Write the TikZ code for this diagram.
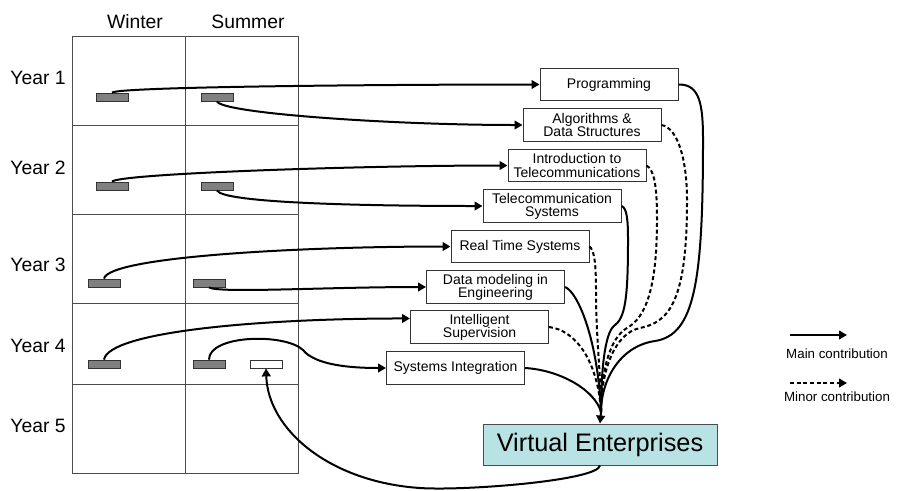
\documentclass[tikz,border=0pt]{standalone}
\usepackage{fontspec}
\setmainfont{Liberation Sans}
\usetikzlibrary{arrows.meta}
\definecolor{vefill}{RGB}{185,226,228}
\begin{document}
\begin{tikzpicture}[x=0.75pt,y=-0.75pt,
  gridline/.style={draw=black!70,line width=0.75pt},
  course/.style={draw=black!80,line width=0.75pt,fill=white,minimum width=103.5pt,minimum height=24.5pt,inner sep=0pt,align=center,font=\fontsize{10.5}{9.9}\selectfont},
  bar/.style={draw=black!80,line width=0.6pt,fill=black!50,minimum width=24pt,minimum height=6pt,inner sep=0pt},
  wbar/.style={bar,fill=white},
  lbl/.style={font=\fontsize{14.5}{16}\selectfont,inner sep=0pt},
  legendtext/.style={font=\fontsize{10}{12}\selectfont,inner sep=0pt},
  mainc/.style={line width=1.5pt},
  minorc/.style={line width=1.5pt,dash pattern=on 3pt off 2pt},
  arr/.style={-{Triangle[length=6pt,width=6.5pt]}},
]
\useasboundingbox (0,0) rectangle (898,490);

% table
\draw[gridline] (72,36) rectangle (298,473);
\draw[gridline] (185,36) -- (185,473);
\foreach \yy in {125,214,303,384} \draw[gridline] (72,\yy) -- (298,\yy);

\node[lbl] (winter) at (135,22) {Winter};
\node[lbl] (summer) at (248,22) {Summer};
\node[lbl] (y1) at (38,78) {Year 1};
\node[lbl] (y2) at (38,168) {Year 2};
\node[lbl] (y3) at (38,265) {Year 3};
\node[lbl] (y4) at (38,346) {Year 4};
\node[lbl] (y5) at (38,426) {Year 5};

% bars
\node[bar] (b1w) at (112,97) {};
\node[bar] (b1s) at (217,97) {};
\node[bar] (b2w) at (112,186) {};
\node[bar] (b2s) at (217,186) {};
\node[bar] (b3w) at (104,283) {};
\node[bar] (b3s) at (209,283) {};
\node[bar] (b4w) at (104,364) {};
\node[bar] (b4s) at (209,364) {};
\node[wbar] (wb) at (266,364) {};

% courses
\node[course] (prog) at (609,84.5) {Programming};
\node[course] (alg) at (592,125) {Algorithms \&\\Data Structures};
\node[course] (intro) at (577,165.5) {Introduction to\\Telecommunications};
\node[course] (tele) at (552,206) {Telecommunication\\Systems};
\node[course] (rts) at (520,246.5) {Real Time Systems};
\node[course] (dm) at (495.5,287) {Data modeling in\\Engineering};
\node[course] (is) at (479.5,327) {Intelligent\\Supervision};
\node[course] (si) at (455.5,368) {Systems Integration};

\node[draw=black!70,line width=0.75pt,fill=vefill,minimum width=175.5pt,minimum height=30.75pt,inner sep=0pt,font=\fontsize{19}{22}\selectfont] (ve) at (600,444.5) {Virtual Enterprises};

% bar -> course
\draw[mainc,arr] (b1w.north) .. controls +(8,-6) and +(-150,0) .. (prog.west);
\draw[mainc,arr] (b1s.south) .. controls +(5,12) and +(-130,0) .. (alg.west);
\draw[mainc,arr] (b2w.north) .. controls +(8,-8) and +(-150,0) .. (intro.west);
\draw[mainc,arr] (b2s.south) .. controls +(5,12) and +(-130,0) .. (tele.west);
\draw[mainc,arr] (b3w.north) .. controls +(5,-22) and +(-150,0) .. (rts.west);
\draw[mainc,arr] (b3s.south) .. controls +(10,6) and +(-100,0) .. (dm.west);
\draw[mainc,arr] (b4w.north) .. controls +(5,-28) and +(-150,0) .. (is.173);
\draw[mainc,arr] (b4s.north) .. controls +(0,-25) and (285,333) .. (303,350) .. controls (315,365) and (350,368) .. (si.west);

% VE -> white bar
\draw[mainc,arr] (ve.south) .. controls +(-2,15) and (465,491) .. (420,488) .. controls (330,482) and (268,430) .. (wb.south);

% course -> VE
\coordinate (hub) at (601,412);
\draw[mainc] (prog.east) .. controls (700,84) and (703,105) .. (703,140) .. controls (703,280) and (695,335) .. (655,341) .. controls (620,346) and (601,380) .. (hub);
\draw[minorc] (alg.east) .. controls (678,128) and (687,160) .. (687,200) .. controls (687,300) and (670,322) .. (640,328) .. controls (615,333) and (601,370) .. (hub);
\draw[minorc] (intro.east) .. controls (655,170) and (657,190) .. (657,220) .. controls (657,290) and (645,318) .. (627,328) .. controls (610,338) and (601,370) .. (hub);
\draw[mainc] (tele.east) .. controls (627,208) and (628,220) .. (628,240) .. controls (628,300) and (625,318) .. (614,326) .. controls (605,333) and (601,370) .. (hub);
\draw[minorc] (rts.east) .. controls (594,250) and (596,262) .. (596,290) .. controls (596,340) and (601,375) .. (hub);
\draw[mainc] (dm.east) .. controls (578,292) and (598,340) .. (hub);
\draw[minorc] (is.east) .. controls (575,330) and (598,360) .. (hub);
\draw[mainc] (si.east) .. controls (560,370) and (595,390) .. (hub);
\draw[mainc,arr] (hub) -- (ve.north);

% legend
\coordinate (m1) at (790,335);
\coordinate (m2) at (847,335);
\draw[mainc,arr] (m1) -- (m2);
\node[legendtext] (mtext) at (837,354) {Main contribution};
\coordinate (n1) at (790,383);
\coordinate (n2) at (847,383);
\draw[minorc,arr] (n1) -- (n2);
\node[legendtext] (ntext) at (837,397) {Minor contribution};
\end{tikzpicture}
\end{document}
